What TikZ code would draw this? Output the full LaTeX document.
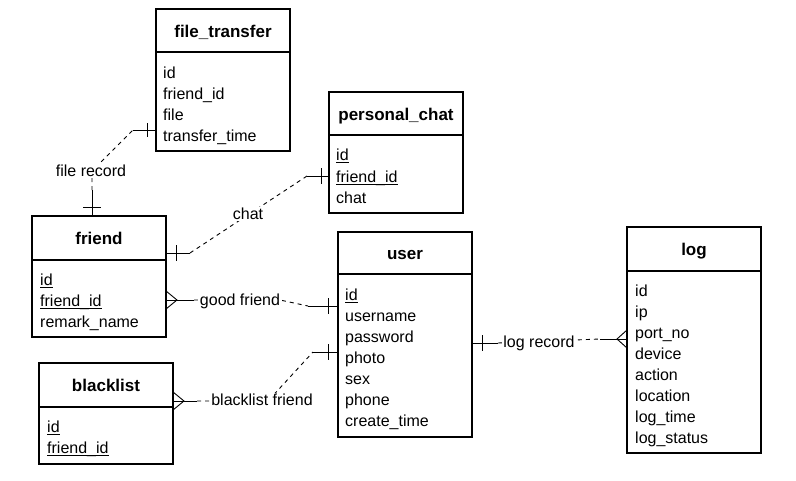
\documentclass[tikz,border=0pt]{standalone}
\usepackage{fontspec}
\setmainfont{Liberation Sans}
\newcommand{\undl}[1]{\setbox0\hbox{#1}\rlap{\rule[-3pt]{\wd0}{1pt}}\box0}
\begin{document}
\begin{tikzpicture}[x=1pt,y=-1pt,
  ent/.style={draw,line width=1.3pt,anchor=north west,inner sep=0pt,outer sep=0pt},
  ttl/.style={anchor=base,font=\bfseries\fontsize{17}{20}\selectfont,inner sep=0pt},
  fld/.style={anchor=base west,font=\fontsize{16}{19}\selectfont,inner sep=0pt},
  sep/.style={line width=1.3pt},
  rel/.style={line width=0.9pt},
  dsh/.style={line width=0.9pt,dash pattern=on 4pt off 4pt},
  lbl/.style={fill=white,font=\fontsize{16}{19}\selectfont,inner sep=1.5pt},
]
\useasboundingbox[fill=white] (0,0) rectangle (796,480);

% ---------- file_transfer ----------
\node[ent,minimum width=134pt,minimum height=142pt] (ft) at (156,9) {};
\draw[sep] (156,52) -- (290,52);
\node[ttl] (ftt) at (223,37) {file\_transfer};
\node[fld] (ft1) at (163,78) {id};
\node[fld] (ft2) at (163,99) {friend\_id};
\node[fld] (ft3) at (163,120) {file};
\node[fld] (ft4) at (163,141) {transfer\_time};

% ---------- personal_chat ----------
\node[ent,minimum width=134pt,minimum height=121pt] (pc) at (329,92) {};
\draw[sep] (329,135) -- (463,135);
\node[ttl] (pct) at (396,120) {personal\_chat};
\node[fld] (pc1) at (336,160) {\undl{id}};
\node[fld] (pc2) at (336,182) {\undl{friend\_id}};
\node[fld] (pc3) at (336,203) {chat};

% ---------- friend ----------
\node[ent,minimum width=134pt,minimum height=121pt] (fr) at (32,216) {};
\draw[sep] (32,260) -- (166,260);
\node[ttl] (frt) at (99,244) {friend};
\node[fld] (fr1) at (40,285) {\undl{id}};
\node[fld] (fr2) at (40,306) {\undl{friend\_id}};
\node[fld] (fr3) at (40,327) {remark\_name};

% ---------- user ----------
\node[ent,minimum width=134pt,minimum height=205pt] (us) at (338,232) {};
\draw[sep] (338,274) -- (472,274);
\node[ttl] (ust) at (405,259) {user};
\node[fld] (us1) at (345,300) {\undl{id}};
\node[fld] (us2) at (345,321) {username};
\node[fld] (us3) at (345,342) {password};
\node[fld] (us4) at (345,363) {photo};
\node[fld] (us5) at (345,384) {sex};
\node[fld] (us6) at (345,405) {phone};
\node[fld] (us7) at (345,426) {create\_time};

% ---------- blacklist ----------
\node[ent,minimum width=134pt,minimum height=101pt] (bl) at (39,363) {};
\draw[sep] (39,407) -- (173,407);
\node[ttl] (blt) at (106,391) {blacklist};
\node[fld] (bl1) at (47,432) {\undl{id}};
\node[fld] (bl2) at (47,453) {\undl{friend\_id}};

% ---------- log ----------
\node[ent,minimum width=134pt,minimum height=226pt] (lg) at (627,227) {};
\draw[sep] (627,271) -- (761,271);
\node[ttl] (lgt) at (694,255) {log};
\node[fld] (lg1) at (635,296) {id};
\node[fld] (lg2) at (635,317) {ip};
\node[fld] (lg3) at (635,338) {port\_no};
\node[fld] (lg4) at (635,359) {device};
\node[fld] (lg5) at (635,380) {action};
\node[fld] (lg6) at (635,401) {location};
\node[fld] (lg7) at (635,422) {log\_time};
\node[fld] (lg8) at (635,443) {log\_status};

% ---------- file record ----------
\coordinate (fA) at (fr.north -| 92,0);
\coordinate (fB) at (ft.west |- 0,130);
\draw[rel] (fA) -- ++(0,-26);
\draw[rel] ([shift={(-9,-9)}]fA) -- ++(18,0);
\draw[dsh] ([shift={(0,-26)}]fA) -- (92,171) -- (133,130);
\draw[rel] (133,130) -- (fB);
\draw[rel] ([shift={(-9,-7)}]fB) -- ++(0,14);
\node[lbl] (l1) at (91,171) {file record};

% ---------- chat ----------
\coordinate (cA) at (fr.east |- 0,253);
\coordinate (cB) at (pc.west |- 0,176);
\draw[rel] (cA) -- ++(24,0);
\draw[rel] ([shift={(10,-8)}]cA) -- ++(0,16);
\draw[dsh] ([shift={(24,0)}]cA) -- (307,176);
\draw[rel] (307,176) -- (cB);
\draw[rel] ([shift={(-8,-8)}]cB) -- ++(0,16);
\node[lbl] (l2) at (248,214) {chat};

% ---------- good friend ----------
\coordinate (gA) at (fr.east |- 0,300);
\coordinate (gB) at (us.west |- 0,306);
\draw[rel] ([shift={(0,-9)}]gA) -- ++(11,9) -- ++(-11,9);
\draw[rel] (gA) -- ++(28,0);
\draw[dsh] ([shift={(28,0)}]gA) -- (280,300) -- (308,306);
\draw[rel] (308,306) -- (gB);
\draw[rel] ([shift={(-10,-8)}]gB) -- ++(0,16);
\node[lbl] (l3) at (240,301) {good friend};

% ---------- blacklist friend ----------
\coordinate (bA) at (bl.east |- 0,401);
\coordinate (bB) at (us.west |- 0,352);
\draw[rel] ([shift={(0,-9)}]bA) -- ++(11,9) -- ++(-11,9);
\draw[rel] (bA) -- ++(24,0);
\draw[dsh] ([shift={(24,0)}]bA) -- (268,401) -- (313,352);
\draw[rel] (313,352) -- (bB);
\draw[rel] ([shift={(-10,-8)}]bB) -- ++(0,16);
\node[lbl] (l4) at (262,400) {blacklist friend};

% ---------- log record ----------
\coordinate (oA) at (us.east |- 0,343);
\coordinate (oB) at (lg.west |- 0,339);
\draw[rel] (oA) -- ++(26,0);
\draw[rel] ([shift={(10,-8)}]oA) -- ++(0,16);
\draw[dsh] ([shift={(26,0)}]oA) -- (600,339);
\draw[rel] (600,339) -- (oB);
\draw[rel] ([shift={(0,-9)}]oB) -- ++(-10,9) -- ++(10,9);
\node[lbl] (l5) at (539,343) {log record};
\end{tikzpicture}
\end{document}
